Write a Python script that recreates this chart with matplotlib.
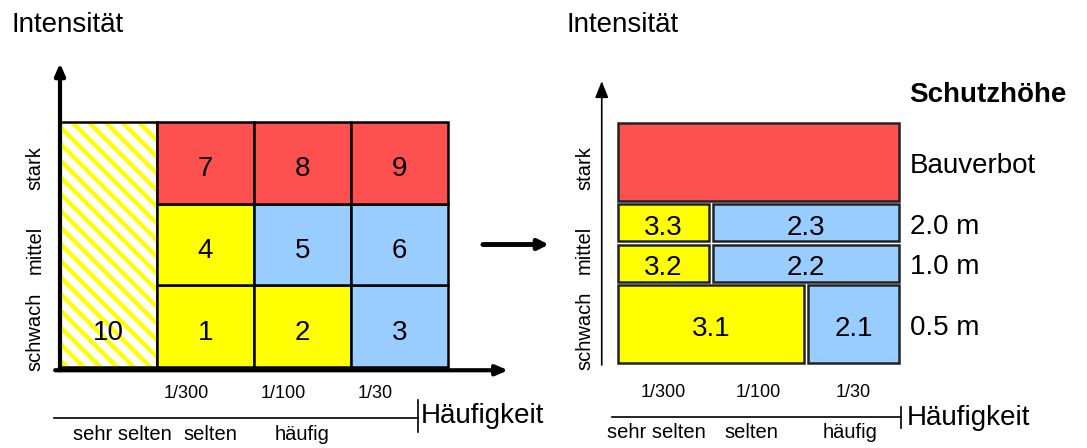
import matplotlib
matplotlib.use("Agg")
import matplotlib.pyplot as plt
from matplotlib.patches import Rectangle

plt.rcParams['font.family'] = ['Liberation Sans', 'DejaVu Sans']
plt.rcParams['hatch.linewidth'] = 3.2

# colours of the hazard classes
class_colors = {'rot': '#ff5050', 'gelb': '#ffff00', 'blau': '#99ccff'}

# axis categories
intensity = ['schwach', 'mittel', 'stark']
freq_ticks = ['1/300', '1/100', '1/30']
freq_classes = ['sehr selten', 'selten', 'häufig']

# left matrix: rows schwach..stark, columns selten..häufig
cell_numbers = [[1, 2, 3], [4, 5, 6], [7, 8, 9]]
cell_classes = [['gelb', 'gelb', 'blau'],
                ['gelb', 'blau', 'blau'],
                ['rot', 'rot', 'rot']]
rare_number = 10

# right panel: protection zones
levels = ['0.5 m', '1.0 m', '2.0 m', 'Bauverbot']
level_bounds = [(0, 1), (1, 1.5), (1.5, 2), (2, 3)]
zone_labels = ['3.1', '2.1', '3.2', '2.2', '3.3', '2.3', '']
zone_classes = ['gelb', 'blau', 'gelb', 'blau', 'gelb', 'blau', 'rot']
zone_col_start = [0, 2, 0, 1, 0, 1, 0]
zone_col_span = [2, 1, 1, 2, 1, 2, 3]
zone_level = [0, 0, 1, 1, 2, 2, 3]

W, H = 1087, 448
fig = plt.figure(figsize=(W / 100, H / 100), dpi=100)


def px_axes(x0, y0, x1, y1):
    return fig.add_axes([x0 / W, 1 - y1 / H, (x1 - x0) / W, (y1 - y0) / H])


def arrow(ax, start, end, lw, hl, hw):
    ax.annotate('', xy=end, xytext=start, annotation_clip=False,
                arrowprops=dict(arrowstyle=f'-|>,head_length={hl},head_width={hw}',
                                lw=lw, color='black', shrinkA=0, shrinkB=0))


fs_big = 20
fs_small = 14.5

# ---------------- left panel ----------------
axL = px_axes(60, 122, 448, 367)
axL.set_xlim(0, 4)
axL.set_ylim(0, 3)
axL.axis('off')

axL.add_patch(Rectangle((0, 0), 1, 3, facecolor='white', edgecolor=class_colors['gelb'],
                        hatch='\\\\', lw=0, clip_on=False))
axL.add_patch(Rectangle((0, 0), 1, 3, facecolor='none', edgecolor='black', lw=1.8, clip_on=False))
axL.text(0.5, 0.42, str(rare_number), ha='center', va='center', fontsize=fs_big)

for r in range(3):
    for c in range(3):
        axL.add_patch(Rectangle((c + 1, r), 1, 1, facecolor=class_colors[cell_classes[r][c]],
                                edgecolor='black', lw=1.8, clip_on=False))
        axL.text(c + 1.5, r + 0.42, str(cell_numbers[r][c]), ha='center', va='center',
                 fontsize=fs_big)

arrow(axL, (0, -0.04), (0, 3.72), 3, 0.7, 0.3)
arrow(axL, (-0.05, -0.04), (4.62, -0.04), 3, 0.7, 0.3)

for i, lab in enumerate(intensity):
    axL.text(-0.26, i + 0.43, lab, rotation=90, ha='center', va='center', fontsize=fs_small)
for i, lab in enumerate(freq_ticks):
    axL.text(i + 1.07, -0.32, lab, ha='left', va='center', fontsize=13)
for x, lab in zip([0.64, 1.55, 2.5], freq_classes):
    axL.text(x, -0.83, lab, ha='center', va='center', fontsize=fs_small)

axL.plot([-0.06, 3.69], [-0.62, -0.62], color='black', lw=1.2, clip_on=False)
axL.plot([3.69, 3.69], [-0.40, -0.80], color='black', lw=1.2, clip_on=False)
axL.text(3.72, -0.60, 'Häufigkeit', ha='left', va='center', fontsize=fs_big)
axL.text(-0.50, 4.10, 'Intensität', ha='left', va='baseline', fontsize=fs_big)

# middle arrow
arrow(axL, (4.36, 1.5), (5.04, 1.5), 3.5, 0.6, 0.3)

# ---------------- right panel ----------------
axR = px_axes(616, 121, 901, 365)
axR.set_xlim(0, 3)
axR.set_ylim(0, 3)
axR.axis('off')

gap = 0.02
for lab, cls, c0, span, lv in zip(zone_labels, zone_classes, zone_col_start,
                                  zone_col_span, zone_level):
    y0, y1 = level_bounds[lv]
    axR.add_patch(Rectangle((c0 + gap, y0 + gap), span - 2 * gap, y1 - y0 - 2 * gap,
                            facecolor=class_colors[cls], edgecolor='#222222', lw=1.8,
                            clip_on=False))
    if lab:
        axR.text(c0 + span / 2, (y0 + y1) / 2 - 0.06, lab, ha='center', va='center',
                 fontsize=fs_big)

for lab, (y0, y1) in zip(levels, level_bounds):
    axR.text(3.09, (y0 + y1) / 2 - 0.05, lab, ha='left', va='center', fontsize=fs_big)
axR.text(3.09, 3.32, 'Schutzhöhe', ha='left', va='center', fontsize=fs_big, fontweight='bold')

arrow(axR, (-0.15, 0), (-0.15, 3.49), 1.2, 1.0, 0.4)

for i, lab in enumerate(intensity):
    axR.text(-0.33, i + 0.42, lab, rotation=90, ha='center', va='center', fontsize=fs_small)
for i, lab in enumerate(freq_ticks):
    axR.text(i + 0.5, -0.34, lab, ha='center', va='center', fontsize=13)
for x, lab in zip([0.43, 1.43, 2.46], freq_classes):
    axR.text(x, -0.83, lab, ha='center', va='center', fontsize=fs_small)

axR.plot([-0.04, 3.0], [-0.64, -0.64], color='black', lw=1.2, clip_on=False)
axR.plot([3.0, 3.0], [-0.52, -0.77], color='black', lw=1.2, clip_on=False)
axR.text(3.06, -0.65, 'Häufigkeit', ha='left', va='center', fontsize=fs_big)
axR.text(-0.52, 4.10, 'Intensität', ha='left', va='baseline', fontsize=fs_big)

fig.savefig('out.png', dpi=100)
